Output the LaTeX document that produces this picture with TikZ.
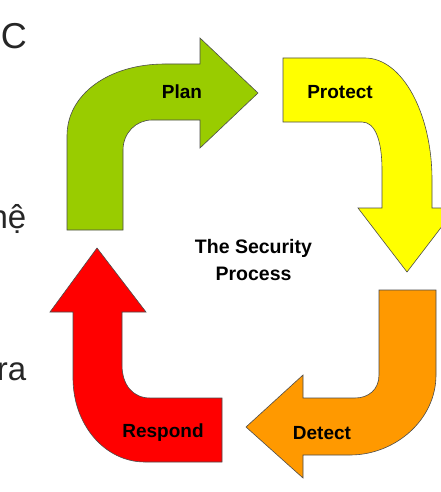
\documentclass[tikz,border=0pt]{standalone}
\usepackage{fontspec}
\setmainfont{Liberation Sans}
\definecolor{plangreen}{HTML}{99CC00}
\definecolor{protyellow}{HTML}{FFFF00}
\definecolor{detorange}{HTML}{FF9900}
\definecolor{respred}{HTML}{FF0000}
\definecolor{slidetext}{HTML}{262626}
\tikzset{
  bent/.style={draw=black!70, line width=0.6pt, line join=miter},
  lbl/.style={font=\bfseries\fontsize{19}{23}\selectfont, inner sep=0pt, text=black},
  sidetext/.style={font=\fontsize{33}{38}\selectfont, inner sep=0pt, text=slidetext, anchor=base east}
}
\begin{document}
\begin{tikzpicture}[x=1pt,y=-1pt]
\clip (0,0) rectangle (441,492);
\fill[white] (0,0) rectangle (441,492);

% Plan (green)
\path[bent, fill=plangreen]
  (67,230) -- (67,136) .. controls (67,94) and (109,64) .. (165,64)
  -- (200,64) -- (200,38) -- (258,93) -- (200,148) -- (200,120)
  -- (152,120) .. controls (136,120) and (123,133) .. (123,150)
  -- (123,230) -- cycle;

% Protect (yellow)
\path[bent, fill=protyellow]
  (283,58) -- (365,58) .. controls (402,58) and (432,113) .. (432,180)
  -- (432,208) -- (456,208) -- (407,272) -- (358,208) -- (382,208)
  -- (382,170) .. controls (382,140) and (375,122) .. (362,122)
  -- (283,122) -- cycle;

% Detect (orange)
\path[bent, fill=detorange]
  (379,290) -- (436,290) -- (436,375) .. controls (436,420) and (395,455) .. (350,455)
  -- (303,455) -- (303,478) -- (246,427) -- (303,375) -- (303,398)
  -- (355,398) .. controls (368,398) and (379,390) .. (379,375)
  -- cycle;

% Respond (red)
\path[bent, fill=respred]
  (222,462) -- (145,462) .. controls (105,462) and (73,425) .. (73,378)
  -- (73,312) -- (50,312) -- (97,248) -- (146,312) -- (122,312)
  -- (122,365) .. controls (122,385) and (133,398) .. (150,398)
  -- (222,398) -- cycle;

% labels
\node[lbl] (plan) at (182,92) {Plan};
\node[lbl] (protect) at (340,92) {Protect};
\node[lbl] (detect) at (322,433) {Detect};
\node[lbl] (respond) at (163,433) {Respond};
\node[lbl, align=center, font=\bfseries\fontsize{19.5}{27}\selectfont] (center) at (253.5,260) {The Security\\Process};

% clipped slide text at left
\node[sidetext, font=\fontsize{36}{40}\selectfont] (tc) at (27,48.5) {C};
\node[sidetext] (th) at (26.5,228) {hệ};
\node[sidetext] (tr) at (26.5,380) {ra};
\end{tikzpicture}
\end{document}
